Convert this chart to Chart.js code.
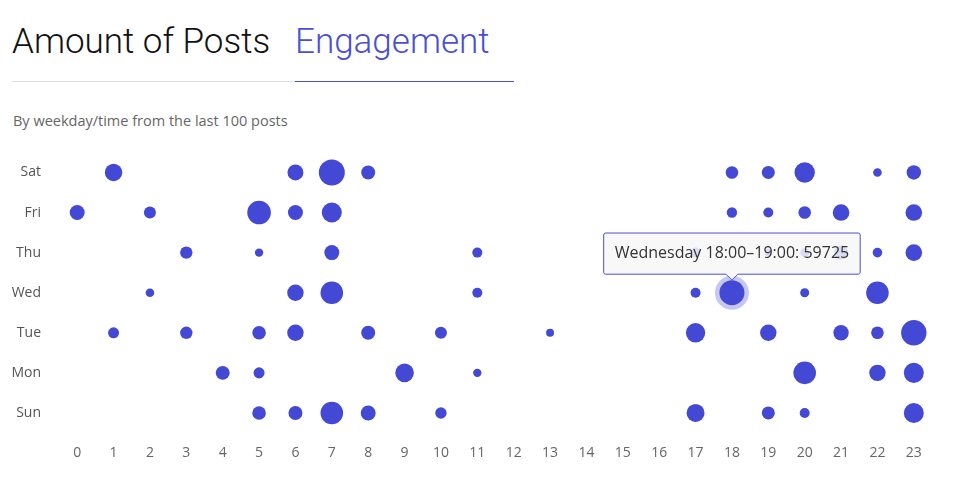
<!DOCTYPE html>
<html>
<head>
<meta charset="utf-8">
<script src="https://cdn.jsdelivr.net/npm/chart.js@4/dist/chart.umd.min.js"></script>
<style>
  body { margin: 0; background: #fff; width: 954px; height: 489px; overflow: hidden; position: relative; }
  .tab { position: absolute; top: 24px; font-family: Roboto, sans-serif; font-weight: 300; font-size: 35px; line-height: 35px; white-space: nowrap; }
  #tab-posts { left: 12px; color: #111; }
  #tab-eng { left: 295px; color: #4a4fd4; }
  .rule { position: absolute; top: 81px; height: 1px; }
  #rule-posts { left: 12px; width: 283px; background: #ddd; }
  #rule-eng { left: 295px; width: 219px; background: #4a4fd4; }
  #subtitle { position: absolute; left: 13px; top: 112px; font-family: 'Open Sans', sans-serif; font-size: 14.5px; line-height: 18px; color: #666; }
  #chart-box { position: absolute; left: 0; top: 126px; width: 954px; height: 356px; }
</style>
</head>
<body>
<div class="tab" id="tab-posts">Amount of Posts</div>
<div class="tab" id="tab-eng">Engagement</div>
<div class="rule" id="rule-posts"></div>
<div class="rule" id="rule-eng"></div>
<div id="subtitle">By weekday/time from the last 100 posts</div>
<div id="chart-box"><canvas id="engagement-chart"></canvas></div>
<script>
// axis labels
const hours = [0, 1, 2, 3, 4, 5, 6, 7, 8, 9, 10, 11, 12, 13, 14, 15, 16, 17, 18, 19, 20, 21, 22, 23];
const days = ['Sun', 'Mon', 'Tue', 'Wed', 'Thu', 'Fri', 'Sat'];
const dayNames = ['Sunday', 'Monday', 'Tuesday', 'Wednesday', 'Thursday', 'Friday', 'Saturday'];

// engagement per hour (null = no posts), hours 0..23
const sun = [null, null, null, null, null, 32500, 33400, 54000, 35800, null, 27200, null, null, null, null, null, null, 43000, null, 31100, 23900, null, null, 47800];
const mon = [null, null, null, null, 33400, 26300, null, null, null, 44400, null, 20100, null, null, null, null, null, null, null, null, 54000, null, 39200, 47800];
const tue = [null, 26300, null, 29600, null, 32500, 39200, null, 33400, null, 28700, null, null, 19100, null, null, null, 46300, null, 39200, null, 36800, 30100, 60700];
const wed = [null, null, 20500, null, null, null, 39200, 54000, null, null, null, 23900, null, null, null, null, null, 23900, 59725, null, 21500, null, 54000, null];
const thu = [null, null, null, 29600, null, 20100, null, 35800, null, null, null, 23900, null, null, null, null, null, 23900, null, 18000, 21500, 33400, 22900, 39700];
const fri = [35800, null, 28700, null, null, 56400, 35800, 47800, null, null, null, null, null, null, null, null, null, null, 24800, 23900, 30100, 39700, null, 39700];
const sat = [null, 41600, null, null, null, null, 38200, 62100, 33400, null, null, null, null, null, null, null, null, null, 30100, 31100, 48700, null, 20500, 34400];

const week = [sun, mon, tue, wed, thu, fri, sat];
const pxPerEngagement = 12.5 / 59725;
const bubbleColor = '#4349d5';

const pad2 = n => String(n).padStart(2, '0');

Chart.defaults.font.family = "'Open Sans', sans-serif";
Chart.defaults.font.size = 14;
Chart.defaults.color = '#666';

Chart.Tooltip.positioners.bubbleTop = function (items) {
    if (!items.length) return false;
    const el = items[0].element;
    return { x: el.x, y: el.y - el.options.radius };
};

const datasets = week.map((values, d) => ({
    label: days[d],
    data: values
        .map((v, h) => v === null ? null : { x: hours[h], y: d, r: v * pxPerEngagement, v: v })
        .filter(p => p !== null),
    backgroundColor: bubbleColor,
    borderWidth: 0,
    hoverBackgroundColor: bubbleColor,
    hoverRadius: 0,
    hoverBorderWidth: 9,
    hoverBorderColor: 'rgba(67, 73, 213, 0.3)'
}));

const chart = new Chart(document.getElementById('engagement-chart'), {
    type: 'bubble',
    data: { datasets: datasets },
    options: {
        responsive: true,
        maintainAspectRatio: false,
        animation: false,
        events: [],
        layout: { padding: { top: 11, right: 22, bottom: 9, left: 0 } },
        scales: {
            x: {
                type: 'linear',
                min: -0.5,
                max: 23.5,
                grid: { display: false, drawTicks: false },
                border: { display: false },
                afterBuildTicks: scale => { scale.ticks = hours.map(h => ({ value: h })); },
                afterFit: scale => { scale.height = 40; },
                ticks: { padding: 12, color: '#666', maxRotation: 0, autoSkip: false, callback: v => String(v) }
            },
            y: {
                type: 'linear',
                min: -0.5,
                max: 6.5,
                grid: { display: false, drawTicks: false },
                border: { display: false },
                afterBuildTicks: scale => { scale.ticks = days.map((_, i) => ({ value: i })); },
                afterFit: scale => { scale.width = 59; },
                ticks: { padding: 18, color: '#555', callback: v => days[v] }
            }
        },
        plugins: {
            legend: { display: false },
            tooltip: {
                position: 'bubbleTop',
                yAlign: 'bottom',
                xAlign: 'center',
                caretSize: 6,
                caretPadding: 0,
                cornerRadius: 2,
                displayColors: false,
                backgroundColor: 'rgba(247, 247, 247, 0.85)',
                borderColor: '#4a4fd4',
                borderWidth: 1,
                bodyColor: '#333',
                bodyFont: { size: 16 },
                padding: { x: 11, y: 11 },
                callbacks: {
                    title: () => '',
                    label: ctx => {
                        const p = ctx.raw;
                        return dayNames[p.y] + ' ' + pad2(p.x) + ':00\u2013' + pad2(p.x + 1) + ':00: ' + p.v;
                    }
                }
            }
        }
    }
});

// show the hovered Wednesday 18:00 bubble
const wedIndex = datasets[3].data.findIndex(p => p.x === 18);
const active = [{ datasetIndex: 3, index: wedIndex }];
chart.setActiveElements(active);
chart.tooltip.setActiveElements(active, { x: 0, y: 0 });
chart.render();
</script>
</body>
</html>
